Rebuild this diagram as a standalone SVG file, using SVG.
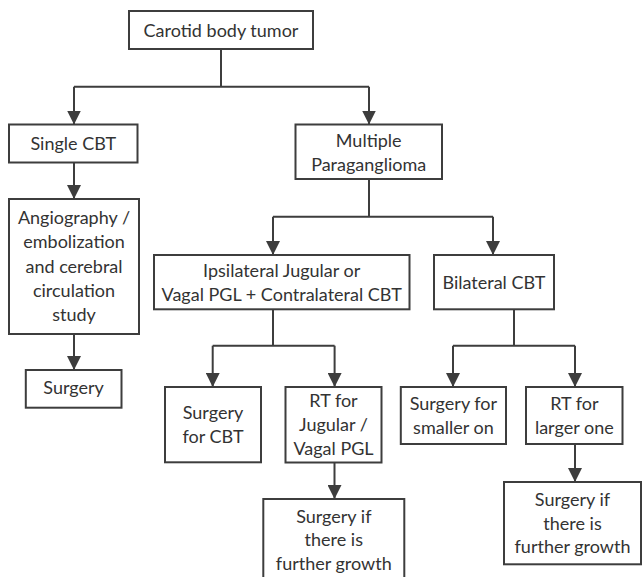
<svg xmlns="http://www.w3.org/2000/svg" width="642" height="577" viewBox="0 0 642 577">
  <style>
    .box { fill: #ffffff; stroke: #3d3d3d; stroke-width: 2; }
    .lbl { font-family: Lato, "Liberation Sans", sans-serif; font-size: 18px; fill: #333333; text-anchor: middle; }
    .wire { fill: none; stroke: #3d3d3d; stroke-width: 2; }
    .arrow { fill: none; stroke: #3d3d3d; stroke-width: 2; marker-end: url(#head); }
  </style>
  <defs>
    <marker id="head" viewBox="0 0 14 14" refX="14" refY="7" markerWidth="14" markerHeight="14" markerUnits="userSpaceOnUse" orient="auto">
      <path d="M0,0 L14,7 L0,14 Z" fill="#3d3d3d"/>
    </marker>
  </defs>
  <rect width="642" height="577" fill="#ffffff"/>

  <!-- connectors -->
  <g id="connectors">
    <path class="wire" d="M221,49 V86.7 M74,86.7 H369"/>
    <path class="arrow" d="M74,86.7 V124.5"/>
    <path class="arrow" d="M369,86.7 V124.5"/>
    <path class="arrow" d="M74,162.5 V199"/>
    <path class="wire" d="M369,179 V216.7 M273,216.7 H493"/>
    <path class="arrow" d="M273,216.7 V255"/>
    <path class="arrow" d="M493,216.7 V255"/>
    <path class="arrow" d="M74,334 V370"/>
    <path class="wire" d="M273,309.3 V345.7 M212.7,345.7 H334.6"/>
    <path class="arrow" d="M212.7,345.7 V387"/>
    <path class="arrow" d="M334.6,345.7 V387"/>
    <path class="wire" d="M514,309.3 V345.7 M453,345.7 H575"/>
    <path class="arrow" d="M453,345.7 V387"/>
    <path class="arrow" d="M575,345.7 V387"/>
    <path class="arrow" d="M334.5,462.5 V499"/>
    <path class="arrow" d="M575,444 V482"/>
  </g>

  <g id="carotid-body-tumor">
    <rect class="box" x="129" y="11" width="184" height="38"/>
    <text class="lbl" x="221" y="36.5">Carotid body tumor</text>
  </g>
  <g id="single-cbt">
    <rect class="box" x="9" y="124.5" width="128.5" height="38"/>
    <text class="lbl" x="73.3" y="150">Single CBT</text>
  </g>
  <g id="multiple-paraganglioma">
    <rect class="box" x="295.5" y="124.5" width="146.5" height="54.5"/>
    <text class="lbl" x="368.7" y="147">Multiple</text>
    <text class="lbl" x="368.7" y="171">Paraganglioma</text>
  </g>
  <g id="angiography">
    <rect class="box" x="9" y="199" width="130" height="135"/>
    <text class="lbl" x="74" y="224">Angiography /</text>
    <text class="lbl" x="74" y="248.3">embolization</text>
    <text class="lbl" x="74" y="272.6">and cerebral</text>
    <text class="lbl" x="74" y="297">circulation</text>
    <text class="lbl" x="74" y="321.3">study</text>
  </g>
  <g id="surgery-single">
    <rect class="box" x="25.8" y="370" width="95.7" height="37.7"/>
    <text class="lbl" x="73.6" y="394">Surgery</text>
  </g>
  <g id="ipsilateral">
    <rect class="box" x="154" y="255" width="255.5" height="54.3"/>
    <text class="lbl" x="281.7" y="276.7">Ipsilateral Jugular or</text>
    <text class="lbl" x="281.7" y="300.5">Vagal PGL + Contralateral CBT</text>
  </g>
  <g id="bilateral-cbt">
    <rect class="box" x="434" y="255" width="120" height="54.3"/>
    <text class="lbl" x="494" y="288.5">Bilateral CBT</text>
  </g>
  <g id="surgery-for-cbt">
    <rect class="box" x="165" y="387" width="96" height="75.3"/>
    <text class="lbl" x="213" y="419">Surgery</text>
    <text class="lbl" x="213" y="443">for CBT</text>
  </g>
  <g id="rt-jugular-vagal">
    <rect class="box" x="285.5" y="387" width="96" height="75.5"/>
    <text class="lbl" x="333.5" y="407">RT for</text>
    <text class="lbl" x="333.5" y="431">Jugular /</text>
    <text class="lbl" x="333.5" y="455">Vagal PGL</text>
  </g>
  <g id="surgery-smaller">
    <rect class="box" x="400.8" y="387" width="105.2" height="57"/>
    <text class="lbl" x="453.4" y="410">Surgery for</text>
    <text class="lbl" x="453.4" y="434">smaller on</text>
  </g>
  <g id="rt-larger">
    <rect class="box" x="526" y="387" width="96.5" height="57"/>
    <text class="lbl" x="574.3" y="410">RT for</text>
    <text class="lbl" x="574.3" y="434">larger one</text>
  </g>
  <g id="surgery-if-growth-left">
    <rect class="box" x="263.3" y="499" width="141" height="83"/>
    <text class="lbl" x="333.8" y="523">Surgery if</text>
    <text class="lbl" x="333.8" y="546">there is</text>
    <text class="lbl" x="333.8" y="569.5">further growth</text>
  </g>
  <g id="surgery-if-growth-right">
    <rect class="box" x="504" y="482" width="137" height="82.3"/>
    <text class="lbl" x="572.5" y="506">Surgery if</text>
    <text class="lbl" x="572.5" y="529.5">there is</text>
    <text class="lbl" x="572.5" y="553">further growth</text>
  </g>
</svg>
